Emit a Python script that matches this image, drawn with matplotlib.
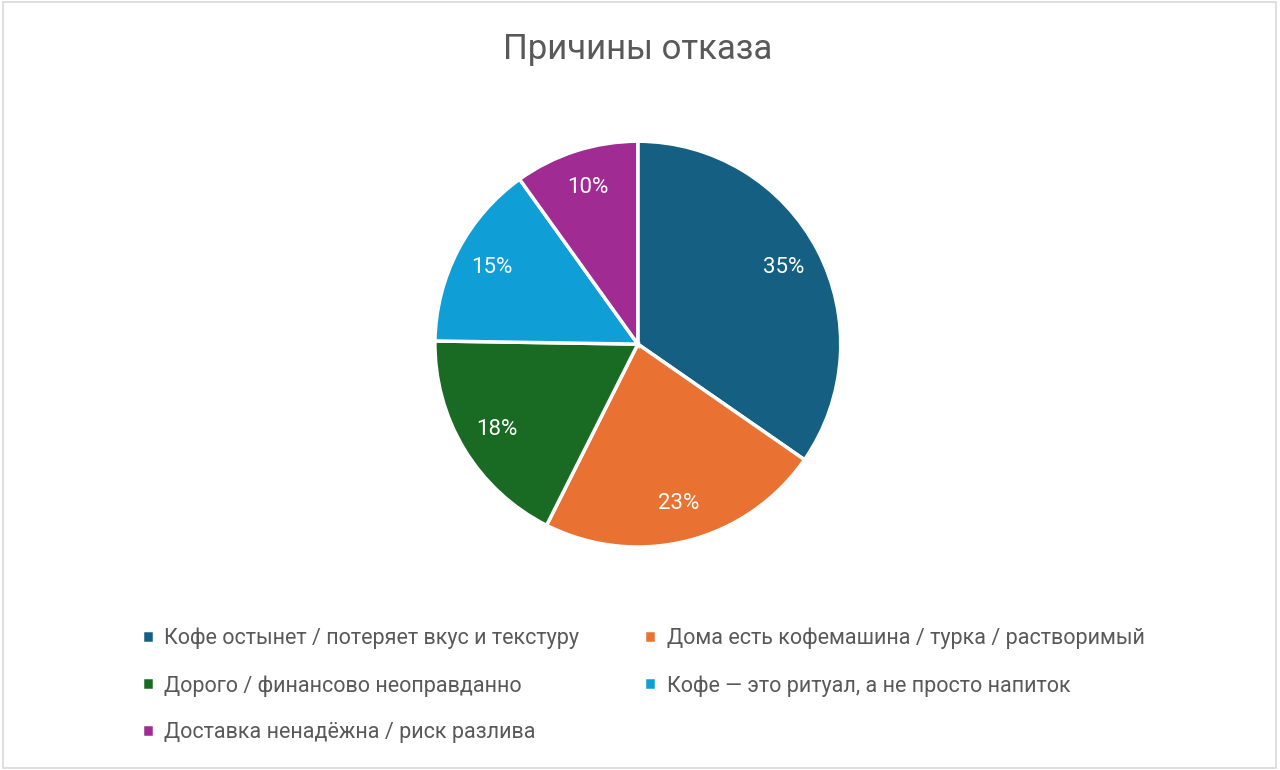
import matplotlib
matplotlib.use("Agg")
import matplotlib.pyplot as plt
from matplotlib.patches import Rectangle

plt.rcParams['font.family'] = ['Roboto', 'DejaVu Sans']

# Данные диаграммы
reasons = [
    "Кофе остынет / потеряет вкус и текстуру",
    "Дома есть кофемашина / турка / растворимый",
    "Дорого / финансово неоправданно",
    "Кофе — это ритуал, а не просто напиток",
    "Доставка ненадёжна / риск разлива",
]
shares = [35, 23, 18, 15, 10]
colors = ["#156082", "#E97132", "#196B24", "#0F9ED5", "#A02B93"]

fig = plt.figure(figsize=(12.8, 7.7), dpi=100)
fig.patch.set_facecolor("white")

# рамка области диаграммы
fig.patches.append(Rectangle((0.002, 0.003), 0.995, 0.994, transform=fig.transFigure,
                             fill=False, edgecolor="#D9D9D9", linewidth=1.2))

ax = fig.add_axes([0.3398, 0.2896, 0.317, 0.527])
wedges, texts, autotexts = ax.pie(
    shares, colors=colors, startangle=90, counterclock=False,
    autopct=lambda p: f"{p:.0f}%", pctdistance=0.81,
    wedgeprops=dict(edgecolor="white", linewidth=2.5),
    textprops=dict(color="white", fontsize=16),
)
ax.set_xlim(-1.0, 1.0)
ax.set_ylim(-1.0, 1.0)
ax.set_aspect("equal")

fig.text(0.498, 0.936, "Причины отказа", ha="center", va="center",
         fontsize=25, color="#595959")

# легенда по строкам: matplotlib заполняет столбцами, поэтому порядок меняем
order = [0, 2, 4, 1, 3]
leg = fig.legend([wedges[i] for i in order], [reasons[i] for i in order],
                 loc="upper left", bbox_to_anchor=(0.104, 0.196),
                 ncol=2, frameon=False, fontsize=15.5, labelcolor="#595959",
                 handlelength=0.55, handleheight=0.55, handletextpad=0.5,
                 columnspacing=3.0, labelspacing=1.2, borderaxespad=0)

fig.savefig("out.png", dpi=100)
